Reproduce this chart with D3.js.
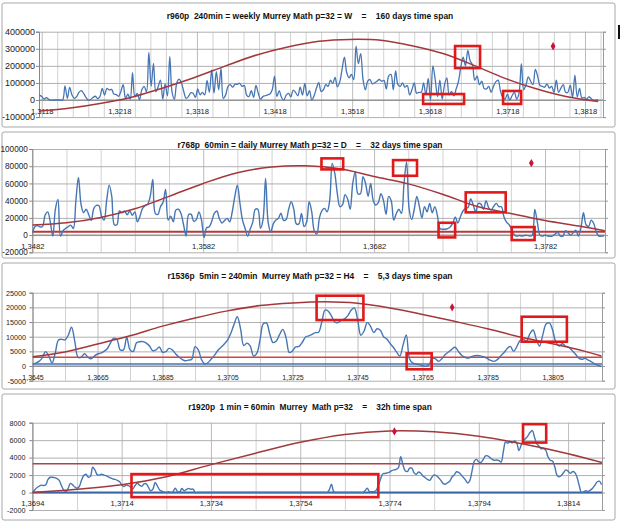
<!DOCTYPE html>
<html><head><meta charset="utf-8">
<script src="https://cdnjs.cloudflare.com/ajax/libs/d3/7.8.5/d3.min.js"></script>
<style>
body{margin:0;background:#fff}
svg{display:block}
text{font-family:"Liberation Sans",Arial,sans-serif}
</style></head>
<body><svg id="c" width="625" height="523"></svg>
<script>
// ---------------- DATA ----------------
const p1Title = "r960p  240min = weekly Murrey Math p=32 = W    =    160 days time span";
const p2Title = "r768p  60min = daily Murrey Math p=32 = D    =    32 days time span";
const p3Title = "r1536p  5min = 240min  Murrey Math p=32 = H4    =    5,3 days time span";
const p4Title = "r1920p  1 min = 60min  Murrey  Math p=32    =    32h time span";

const p1XTicks = [1.3118, 1.3218, 1.3318, 1.3418, 1.3518, 1.3618, 1.3718, 1.3818];
const p1YTicks = [-100000, 0, 100000, 200000, 300000, 400000];
const p2XTicks = [1.3482, 1.3582, 1.3682, 1.3782];
const p2YTicks = [-20000, 0, 20000, 40000, 60000, 80000, 100000];
const p3XTicks = [1.3645, 1.3665, 1.3685, 1.3705, 1.3725, 1.3745, 1.3765, 1.3785, 1.3805];
const p3YTicks = [-5000, 0, 5000, 10000, 15000, 20000, 25000];
const p4XTicks = [1.3694, 1.3714, 1.3734, 1.3754, 1.3774, 1.3794, 1.3814];
const p4YTicks = [-2000, 0, 2000, 4000, 6000, 8000];

// blue volume profiles (thousands), one value per price step
const p1BlueStart = 1.3115, p1BlueStep = 0.0003;
const p1BlueK = [29,20,6,14,4,0,0,0,0,0, 0,82,10,74,29,10,20,45,55,39, 16,0,3,15,22,8,20,68,29,68,
 59,62,35,32,22,50,90,10,35,5, 160,20,39,2,60,80,49,279,80,215, 49,78,117,5,95,25,254,45,5,100,
 122,100,50,10,20,42,40,15,65,30, 45,30,115,45,176,40,166,60,185,10, 30,80,90,75,92,92,98,80,85,29,
 20,55,15,85,40,5,20,25,30,35, 60,140,20,55,15,0,29,39,18,58, 45,25,75,29,98,25,55,0,25,70, 101,
 50,60,90,80,116,97,132,77,106,180, 251,160,130,150,120,315,213,271,120,60, 110,120,95,100,110,120,110,115,65,140,
 150,60,170,90,80,100,75,85,30,60, 100,40,45,45,100,30,126,0,200,120, 20,116,5,90,130,30,50,25,65,110,
 193,251,200,290,230,205,116,140,90,110, 68,65,80,45,80,106,116,55,15,5, 35,0,25,45,5,40,213,60,90,135,
 110,90,180,140,85,80,75,95,70,80, 45,116,45,70,90,45,45,87,15,145, 19,68,12,15,5,19,8,0,0,0];
const p1RedX = [1.3115,1.3155,1.3195,1.3235,1.3275,1.3315,1.3355,1.3395,1.3435,1.3475,1.3515,1.3555,1.3595,1.3635,1.3675,1.3715,1.3755,1.3795,1.3835];
const p1RedK = [-65,-47,-19,18,72,132,200,264,311,344,355,350,318,272,203,127,66,19,-8];
const p1Marker = [1.37769, 315000];
const p1Boxes = [[1.36506,1.36828,187000,316000],[1.36094,1.36622,-23000,35000],[1.37125,1.37357,-23000,53000]];

const p2BlueStart = 1.3482, p2BlueStep = 0.00015;
const p2BlueK = [1.9,9.7,11,9.5,10,23.2,27,15.5,-1.2,30, 41.4,-1.2,5,7.7,9.7,11.6,7.7,40,67,36,
 26,30,24,17,31,34.5,34,22,17.4,40, 58,45,12,12,28,26,28,23.5,28,23, 27,15.5,22,31,34,36,45,64.6,25,24,
 33,38,53,17.4,22,15.5,29,30,25,12, -1.2,24,24,16,18,27,17.4,-2.7,8.5,9.7, 16,25.2,28,19,14,17,19.4,15.5,27.1,45,
 58,37,17.4,8,-1.2,7,15,30,30,8, 18,65.8,15,3.5,13,17.4,19.4,25.5,17,18, 30,38.7,30,13,13,
 25,10,15,38.7,27,5,1.2,20,28.5,31, 27,40,83.2,71.6,48,33,35,47,42,30, 60,73.5,48,48,67.7,60,45,60,40,35,
 38,48,40,24,45,40,17.4,25,30,25.2, 60,85.1,30,18,30,45,33,20,33,27, 36.8,26,33,23,7.7,6.8,6.8,7.5,9.5,13.5,
 21,14,21.3,28,31,32.1,42,35,27,36.8, 36,30,40,32,29,33.5,36.8,33,32.9,21, 15,12,7,0.5,-1.2,-0.5,-1,-0.5,-0.3,-1.2,
 -0.3,29.8,15,0,-1.2,0,-1,-1.5,-0.8,1.5, 3,-1.2,-1.2,5,2.5,0,2.7,5.8,-1,8, 25.9,12,10,17.4,13.5,3.5,-1.2,-1.2,-1.2];
const p2RedX = [1.3482,1.3502,1.3522,1.3542,1.3562,1.3582,1.3602,1.3622,1.3642,1.3662,1.3682,1.3702,1.3722,1.3742,1.3762,1.3782,1.3802,1.3817];
const p2RedK = [11.6,14.2,20.5,30.5,45,60,72.5,79,80.5,77,68,59.5,47.5,33.5,25,17,10.5,5];
const p2RedLevel = 4000;
const p2Marker = [1.37740, 83600];
const p2Boxes = [[1.36512,1.36639,76300,89100],[1.36931,1.37071,68900,87100],[1.37356,1.37590,26400,49600],
 [1.37197,1.37294,-2700,14300],[1.37625,1.37759,-5800,9300]];

const p3BlueStart = 1.3645, p3BlueStep = 0.0001;
const p3BlueK = [0.7,1.0,1.6,2.8,4.9,3.5,1.0,4.5,8.9,9.1, 8.9,10.5,13.2,8.5,3.0,3.0,4.2,3.1,2.5,3.4,
 4.1,4.4,5.0,5.9,7.9,9.5,9.0,5.5,5.5,9.8, 5.5,5.0,7.9,8.3,8.3,7.8,6.8,5.2,5.5,6.5, 4.7,4.9,6.0,5.5,4.2,3.1,2.3,1.8,2.0,2.3,
 6.6,5.5,2.2,0.7,1.2,2.4,3.7,5.3,6.4,7.5, 8.8,11.1,14.2,16.8,12.7,7.0,7.8,6.8,3.4,4.3, 8.9,14.4,14.6,10.9,8.0,8.5,10.7,12.5,9.7,4.6,
 5.2,6.5,6.7,8.1,9.9,10.3,10.8,11.4,11.5,
 15,19.1,18.7,17.0,15.0,14.8,15.6,16.1,17.2,19.0, 19.8,16.0,10.5,11.9,14.9,13.5,11.4,12.7,12.2,10.0,
 9.2,7.7,6.4,4.8,3.4,7.2,10.6,2.4,1.0,0.7, 0.5,0.1,-0.1,0.5,2.7,2.4,1.6,2.6,3.9,4.8, 5.7,6.4,5.0,3.7,3.0,2.7,3.2,3.5,3.6,3.4,
 3.1,2.5,1.9,1.6,2.2,3.4,4.5,5.9,6.7,5.0, 6.6,8.7,9.1,8.5,11.0,12.3,9.1,6.8,10.7,14.3, 14.7,12.3,8.1,6.8,7.6,6.8,6.4,5.3,4.1,2.8,
 2.3,2.6,2.0,1.4,0.7,0.2,-0.2];
const p3RedX = [1.3645,1.3655,1.3665,1.3675,1.3685,1.3695,1.3705,1.3715,1.3725,1.3735,1.3745,1.3755,1.3765,1.3775,1.3785,1.3795,1.3805,1.3815,1.3820];
const p3RedK = [3.2,4.8,7.5,10.3,13.6,16.4,18.8,20.6,21.5,21.9,21.4,19.8,17.6,15.2,12.7,9.9,7.6,5.0,3.4];
const p3RedLevel = 3000;
const p3BlueLevel = 700;
const p3Marker = [1.37741, 20000];
const p3Boxes = [[1.37324,1.37468,15680,23970],[1.37601,1.37678,-1120,4330],[1.37955,1.38094,8280,16810]];

const p4BlueStart = 1.3694, p4BlueStep = 0.00005;
const p4BlueK = [0,0.3,0.55,0.72,0.85,0.8,0.9,1.5,1.75,1.75, 1.7,1.6,1.4,0.8,0.3,0.11,0.45,1.05,0.88,0.63,
 0.5,0.69,1.4,1.95,2.1,1.76,1.85,2.9,2.6,2.05, 2.0,2.1,2.0,1.93,1.8,1.68,1.56,1.5,1.4,1.26,
 0.88,0.69,0.85,0.78,0.61,0.42,0.8,1.07,0.85,0.72, 1.0,1.0,0.6,0.2,0.4,1.15,0.75,0.3,0.15,0.05,
 0,0.11,0,0.1,0.5,0.12,0.08,0.46,0.2,0.35, 0.48,0.38,0.4,0,
 0,0,0,0,0,0,0,0,0,0, 0,0,0,0,0,0,0,0,0,0, 0,0,0,0,0,0,0,0,0,0, 0,0,0,0,0,0,0,0,0,0, 0,0,0,0,0,0,0,0,0,0, 0,0,0,0,0,0,0,0,0,
 0.3,0.95,0.1,
 0,0,0,0,0,0,0,0,0,0,0,0,0,
 0.2,0.5,0.1,
 0.11,0.11,0.25,0.8,1.55,2.15,2.18,2.25,2.35,2.5, 2.6,2.65,2.85,4.1,3.2,2.5,2.4,2.8,2.8,2.25,
 2.1,2.35,2.2,1.9,1.7,1.5,1.4,1.76,2.02,1.93, 1.7,1.4,1.05,0.95,1.12,1.3,1.78,2.02,2.38,2.3,
 2.05,1.75,1.45,1.1,1.4,2.5,3.6,3.8,3.5,3.45, 3.8,4.2,4.2,4.0,3.8,3.7,3.72,3.65,3.5,4.7,
 5.8,5.65,5.8,5.7,5.9,5.7,4.8,5.45,5.95,6.2, 6.5,6.9,7.1,6.3,5.6,5.3,5.0,5.05,4.85,4.1,
 3.7,3.6,3.0,2.0,1.8,1.95,2.3,2.6,2.45,2.2, 2.4,2.3,1.75,0.8,0,0.11,0.2,0.12,0.28,0.5,
 0.85,1.2,1.3,0.9];
const p4RedX = [1.3694,1.3704,1.3714,1.3724,1.3734,1.3744,1.3754,1.3764,1.3774,1.3784,1.3794,1.3804,1.3814,1.38216];
const p4RedK = [0,0.38,0.88,1.8,3.2,4.5,5.75,6.65,7.05,6.95,6.45,5.55,4.45,3.44];
const p4RedLevel = 3300;
const p4BlueLevel = 0;
const p4Marker = [1.37751, 7000];
const p4Boxes = [[1.37162,1.37715,-530,2110],[1.38039,1.38091,5725,7830]];

// ---------------- LAYOUT / STYLE ----------------
const panels = [
 {id:1, title:p1Title, xTicks:p1XTicks, yTicks:p1YTicks, xDomain:[1.31145,1.38412], gridStep:0.002, gridN:37,
  blue:p1BlueK, bStart:p1BlueStart, bStep:p1BlueStep, redX:p1RedX, redK:p1RedK, levels:[], marker:p1Marker, boxes:p1Boxes,
  L:{frame:[2,3,613,124], left:39, right:603, top:31.7, bottom:117.1, titleY:18.5, titleW:287, yFont:9, xFont:7.6, yPad:1, xDy:14, blueW:1.3}},
 {id:2, title:p2Title, xTicks:p2XTicks, yTicks:p2YTicks, xDomain:[1.3482,1.38171], gridStep:0.002, gridN:17,
  blue:p2BlueK, bStart:p2BlueStart, bStep:p2BlueStep, redX:p2RedX, redK:p2RedK,
  levels:[{v:p2RedLevel, c:"#b8383d", w:2}], marker:p2Marker, boxes:p2Boxes,
  L:{frame:[2,132,613,126], left:32.3, right:605, top:149, bottom:252.3, titleY:147.5, titleW:265, yFont:8.2, xFont:7.6, yPad:1.5, xDy:14, blueW:1.4}},
 {id:3, title:p3Title, xTicks:p3XTicks, yTicks:p3YTicks, xDomain:[1.3645,1.38202], gridStep:0.001, gridN:18,
  blue:p3BlueK, bStart:p3BlueStart, bStep:p3BlueStep, redX:p3RedX, redK:p3RedK,
  levels:[{v:p3RedLevel, c:"#d8423f", w:1.6},{v:p3BlueLevel, c:"#4472b4", w:1.6}], marker:p3Marker, boxes:p3Boxes,
  L:{frame:[2,263,613,126], left:32.5, right:602, top:292.7, bottom:380.7, titleY:279, titleW:285, yFont:7.2, xFont:7, yPad:3.5, xDy:13.5, blueW:1.4}},
 {id:4, title:p4Title, xTicks:p4XTicks, yTicks:p4YTicks, xDomain:[1.3694,1.38216], gridStep:0.001, gridN:13,
  blue:p4BlueK, bStart:p4BlueStart, bStep:p4BlueStep, redX:p4RedX, redK:p4RedK,
  levels:[{v:p4RedLevel, c:"#a8444a", w:1.3},{v:p4BlueLevel, c:"#3c68a8", w:2}], marker:p4Marker, boxes:p4Boxes,
  L:{frame:[2,394,613,126], left:32.4, right:602, top:422.7, bottom:510, titleY:410, titleW:244, yFont:7.2, xFont:7.6, yPad:4, xDy:13.5, blueW:1.4}}
];

const svg = d3.select("#c");
const fmtPrice = v => d3.format(".4f")(v).replace(".", ",");
const FONT = '"Liberation Sans",Arial,sans-serif';

function drawPanel(P) {
  const L = P.L;
  const g = svg.append("g");
  g.append("rect").attr("x", L.frame[0]).attr("y", L.frame[1]).attr("width", L.frame[2]).attr("height", L.frame[3])
    .attr("rx", 2).attr("fill", "#fff").attr("stroke", "#a8a8a8").attr("stroke-width", 1);

  const x = d3.scaleLinear().domain(P.xDomain).range([L.left, L.right]);
  const y = d3.scaleLinear().domain([P.yTicks[0], P.yTicks[P.yTicks.length - 1]]).range([L.bottom, L.top]);

  const cid = "clip" + P.id;
  g.append("clipPath").attr("id", cid).append("rect")
    .attr("x", L.left).attr("y", L.top - 8).attr("width", L.right - L.left).attr("height", L.bottom - L.top + 14);

  // vertical gridlines
  const vGrid = d3.range(P.gridN).map(i => +(P.xTicks[0] + P.gridStep * i).toFixed(5));
  const vg = g.append("g").attr("transform", `translate(0,${L.top})`)
    .call(d3.axisBottom(x).tickValues(vGrid).tickSize(L.bottom - L.top).tickFormat(""));
  vg.select(".domain").remove();
  vg.selectAll("line").attr("stroke", d => P.xTicks.some(t => Math.abs(t - d) < 1e-6) ? "#bcbcbc" : "#d2d2d2");

  // horizontal gridlines
  const hg = g.append("g").attr("transform", `translate(${L.left},0)`)
    .call(d3.axisLeft(y).tickValues(P.yTicks).tickSize(-(L.right - L.left)).tickFormat(""));
  hg.select(".domain").remove();
  hg.selectAll("line").attr("stroke", "#b0b0b0");

  // right border of plot + right ticks
  const ra = g.append("g").attr("transform", `translate(${L.right},0)`)
    .call(d3.axisRight(y).tickValues(P.yTicks).tickSize(3).tickFormat(""));
  ra.selectAll("line,path").attr("stroke", "#9a9a9a");

  // left value axis
  const ya = g.append("g").attr("transform", `translate(${L.left},0)`)
    .call(d3.axisLeft(y).tickValues(P.yTicks).tickSize(3).tickPadding(L.yPad).tickFormat(d => String(d)));
  ya.selectAll("line,path").attr("stroke", "#868686");
  ya.selectAll("text").attr("font-size", L.yFont).attr("font-family", FONT).attr("fill", "#222");

  // category (price) axis at zero
  g.append("line").attr("x1", L.left).attr("x2", L.right).attr("y1", y(0)).attr("y2", y(0))
    .attr("stroke", "#7f7f7f").attr("stroke-width", 1);
  const xa = g.append("g").attr("transform", `translate(0,${y(0)})`)
    .call(d3.axisBottom(x).tickValues(P.xTicks).tickSize(0).tickFormat(fmtPrice));
  xa.select(".domain").remove();
  xa.selectAll("text").attr("y", L.xDy).attr("dy", null).attr("font-size", L.xFont)
    .attr("font-family", FONT).attr("fill", "#222");

  const plot = g.append("g").attr("clip-path", `url(#${cid})`);

  // level lines
  P.levels.forEach(lv => {
    plot.append("line").attr("x1", L.left).attr("x2", L.right).attr("y1", y(lv.v)).attr("y2", y(lv.v))
      .attr("stroke", lv.c).attr("stroke-width", lv.w);
  });

  // blue volume profile
  const blueData = P.blue.map((v, i) => ({p: P.bStart + P.bStep * i, v: v * 1000}));
  plot.append("path").datum(blueData)
    .attr("d", d3.line().x(d => x(d.p)).y(d => y(d.v)).curve(d3.curveCatmullRom.alpha(0.5)))
    .attr("fill", "none").attr("stroke", "#4676b4").attr("stroke-width", L.blueW).attr("stroke-linejoin", "round");

  // red curve
  const redData = P.redX.map((p, i) => ({p, v: P.redK[i] * 1000}));
  plot.append("path").datum(redData)
    .attr("d", d3.line().x(d => x(d.p)).y(d => y(d.v)).curve(d3.curveCatmullRom.alpha(0.5)))
    .attr("fill", "none").attr("stroke", "#a3383c").attr("stroke-width", 1.5);

  // marker
  g.append("path").attr("d", d3.symbol(d3.symbolDiamond, 20)())
    .attr("transform", `translate(${x(P.marker[0])},${y(P.marker[1])})`).attr("fill", "#c8143a");

  // annotation boxes
  g.selectAll("rect.box").data(P.boxes).join("rect").attr("class", "box")
    .attr("x", d => x(d[0])).attr("width", d => x(d[1]) - x(d[0]))
    .attr("y", d => y(d[3])).attr("height", d => y(d[2]) - y(d[3]))
    .attr("fill", "none").attr("stroke", "#e0191b").attr("stroke-width", 2.6);

  // title
  const t = g.append("text").attr("x", 310).attr("y", L.titleY).attr("text-anchor", "middle")
    .attr("font-weight", "bold").attr("font-size", 9).attr("font-family", FONT).attr("fill", "#111")
    .style("white-space", "pre").attr("xml:space", "preserve").text(P.title);
  const w = t.node().getComputedTextLength();
  if (w > 0) t.attr("font-size", (9 * L.titleW / w).toFixed(2));
}

panels.forEach(drawPanel);

// small black cursor bar right of first panel
svg.append("rect").attr("x", 618).attr("y", 25).attr("width", 2).attr("height", 14).attr("fill", "#111");
</script>
</body></html>
